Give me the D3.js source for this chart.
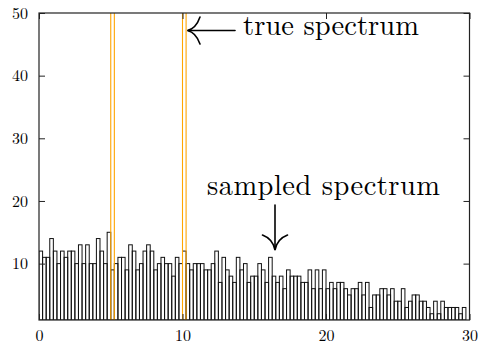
<!DOCTYPE html>
<html>
<head>
<meta charset="utf-8">
<script src="https://cdn.jsdelivr.net/npm/d3@7"></script>
<style>
  html, body { margin: 0; padding: 0; background: #fff; }
  svg { display: block; }
  .serif { font-family: "Latin Modern Roman", "CMU Serif", "Liberation Serif", "DejaVu Serif", "Noto Serif", "Tinos", "FreeSerif", "Nimbus Roman", "Times New Roman", Times, serif; }
  .tick text { font-family: "Latin Modern Roman", "CMU Serif", "Liberation Serif", "DejaVu Serif", "Noto Serif", "Tinos", "FreeSerif", "Nimbus Roman", "Times New Roman", Times, serif; font-size: 16px; fill: #000; }
</style>
</head>
<body>
<svg id="chart" width="478" height="345"></svg>
<script>
// ---- data ----
const binWidth = 0.25;
const sampled = [
  12, 11, 11, 14, 12, 10, 12, 11, 12, 12, 10, 13, 10, 13, 10, 10, 14, 12, 10, 15,
  9, 10, 11, 11, 9, 13, 12, 9, 10, 12, 13, 12, 9, 10, 11, 10, 10, 8, 11, 10,
  12, 10, 9, 10, 10, 10, 9, 9, 10, 12, 7, 11, 9, 8, 7, 11, 9, 10, 7, 8,
  8, 10, 9, 7, 11, 8, 7, 8, 6, 9, 8, 8, 8, 7, 7, 9, 6, 9, 6, 9,
  6, 7, 6, 7, 7, 6, 5, 6, 6, 7, 5, 7, 3, 5, 5, 6, 6, 5, 6, 4,
  4, 6, 3, 4, 5, 5, 4, 4, 3, 2, 4, 2, 4, 3, 3, 3, 3, 2, 3, 1
];
const trueStarts = [5, 10];
const trueValues = [100, 100];
const xTicks = [0, 10, 20, 30];
const yTicks = [10, 20, 30, 40, 50];
const labels = [
  { text: "true spectrum", x: 243, y: 35, width: 176 },
  { text: "sampled spectrum", x: 207, y: 195, width: 233 }
];

// ---- layout ----
const svg = d3.select("#chart");
const L = 39, R = 469.5, T = 13, B = 320;
const x = d3.scaleLinear().domain([0, 30]).range([L, R]);
const y = d3.scaleLinear().domain([1, 50]).range([B, T]);

svg.append("defs").append("clipPath").attr("id", "plotclip")
  .append("rect").attr("x", L).attr("y", T).attr("width", R - L).attr("height", B - T);

const plot = svg.append("g").attr("clip-path", "url(#plotclip)");

// sampled spectrum bars
plot.selectAll("rect.s").data(sampled).enter().append("rect")
  .attr("class", "s")
  .attr("x", (d, i) => x(i * binWidth))
  .attr("width", x(binWidth) - x(0))
  .attr("y", d => y(d))
  .attr("height", d => y(1) - y(d))
  .attr("fill", "none")
  .attr("stroke", "#111")
  .attr("stroke-width", 1);

// true spectrum bars
plot.selectAll("rect.t").data(trueStarts).enter().append("rect")
  .attr("class", "t")
  .attr("x", d => x(d))
  .attr("width", x(binWidth) - x(0))
  .attr("y", (d, i) => y(trueValues[i]))
  .attr("height", (d, i) => y(1) - y(trueValues[i]))
  .attr("fill", "none")
  .attr("stroke", "#FFA500")
  .attr("stroke-width", 1.1);

// axes (ticks inward, mirrored)
const fmt = d3.format("d");
const gB = svg.append("g").attr("transform", `translate(0,${B})`)
  .call(d3.axisBottom(x).tickValues(xTicks).tickSizeInner(-6).tickSizeOuter(0).tickPadding(10).tickFormat(fmt));
const gL = svg.append("g").attr("transform", `translate(${L},0)`)
  .call(d3.axisLeft(y).tickValues(yTicks).tickSizeInner(-6).tickSizeOuter(0).tickPadding(11).tickFormat(fmt));
const gT = svg.append("g").attr("transform", `translate(0,${T})`)
  .call(d3.axisTop(x).tickValues(xTicks).tickSizeInner(-6).tickSizeOuter(0).tickFormat(""));
const gR = svg.append("g").attr("transform", `translate(${R},0)`)
  .call(d3.axisRight(y).tickValues(yTicks).tickSizeInner(-6).tickSizeOuter(0).tickFormat(""));
[gB, gL, gT, gR].forEach(g => {
  g.attr("font-family", null).attr("font-size", null);
  g.select(".domain").remove();
  g.selectAll(".tick line").attr("stroke", "#222").attr("stroke-width", 1);
});

// frame
svg.append("rect").attr("x", L).attr("y", T).attr("width", R - L).attr("height", B - T)
  .attr("fill", "none").attr("stroke", "#222").attr("stroke-width", 1.2);

// labels
labels.forEach(l => {
  svg.append("text")
    .attr("class", "serif")
    .attr("x", l.x).attr("y", l.y)
    .attr("font-size", 28.5)
    .attr("textLength", l.width)
    .attr("lengthAdjust", "spacing")
    .attr("fill", "#000")
    .text(l.text);
});

// arrows
const ag = svg.append("g").attr("fill", "none").attr("stroke", "#000").attr("stroke-width", 1.6)
  .attr("stroke-linecap", "round");
// true spectrum arrow (pointing left)
ag.append("path").attr("d", "M235,30.5 L188,30.5");
ag.append("path").attr("d", "M200,17 Q196,28.5 187.5,30.5 Q196,32.5 200,44");
// sampled spectrum arrow (pointing down)
ag.append("path").attr("d", "M275,205 L275,249.5");
ag.append("path").attr("d", "M262.5,235 Q273,239 275,250 Q277,239 287.5,235");
</script>
</body>
</html>
